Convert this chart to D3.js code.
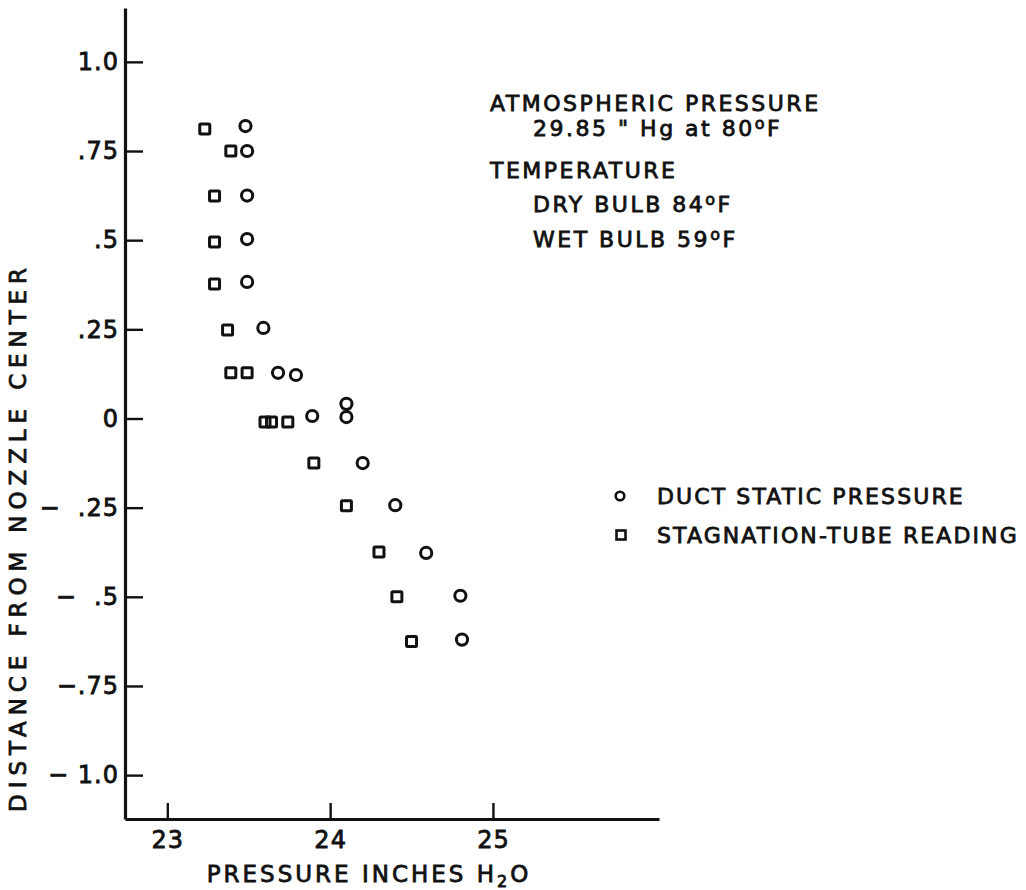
<!DOCTYPE html>
<html>
<head>
<meta charset="utf-8">
<script src="https://cdn.jsdelivr.net/npm/d3@7/dist/d3.min.js"></script>
<style>
  body { margin: 0; background: #fff; }
  svg text { font-family: "DejaVu Sans", sans-serif; fill: #111; stroke: #111; stroke-width: 0.8px; white-space: pre; }
</style>
</head>
<body>
<div id="chart"></div>
<script>
// duct static pressure (circles)
const ductPressure = [23.48, 23.49, 23.49, 23.49, 23.49, 23.59, 23.68, 23.79, 23.89, 24.10, 24.10, 24.20, 24.40, 24.59, 24.80, 24.81];
const ductDistance = [0.82, 0.75, 0.625, 0.503, 0.383, 0.254, 0.128, 0.122, 0.007, 0.041, 0.004, -0.125, -0.243, -0.377, -0.497, -0.62];

// stagnation-tube reading (squares)
const tubePressure = [23.23, 23.39, 23.29, 23.29, 23.29, 23.37, 23.39, 23.49, 23.60, 23.64, 23.74, 23.90, 24.10, 24.30, 24.41, 24.50];
const tubeDistance = [0.812, 0.75, 0.624, 0.495, 0.377, 0.248, 0.128, 0.128, -0.01, -0.01, -0.01, -0.125, -0.245, -0.374, -0.5, -0.625];

const xTicks = [23, 24, 25];
const yTicks = [1, 0.75, 0.5, 0.25, 0, -0.25, -0.5, -0.75, -1];
const yTickLabels = ['1.0', '.75', '.5', '.25', '0', '\u2212  .25', '\u2212  .5', '\u2212.75', '\u2212 1.0'];

const notes = [
    { text: 'ATMOSPHERIC PRESSURE', indent: 0 },
    { text: '29.85 " Hg at 80|F', indent: 1 },
    { text: 'TEMPERATURE', indent: 0 },
    { text: 'DRY BULB 84|F', indent: 1 },
    { text: 'WET BULB 59|F', indent: 1 }
];
const legendLabels = ['DUCT STATIC PRESSURE', 'STAGNATION-TUBE READING'];

const width = 1026;
const height = 890;

const x = d3.scaleLinear()
    .domain([22.74, 26.02])
    .range([125, 659]);

const y = d3.scaleLinear()
    .domain([-1.123, 1.151])
    .range([819, 8]);

const svg = d3.select('#chart')
    .append('svg')
    .attr('width', width)
    .attr('height', height);

// axes
const xAxis = d3.axisBottom(x)
    .tickValues(xTicks)
    .tickSizeInner(-16)
    .tickSizeOuter(0)
    .tickPadding(12)
    .tickFormat(d3.format('d'));

const gx = svg.append('g')
    .attr('transform', 'translate(0,' + y.range()[0] + ')')
    .call(xAxis);

const yAxis = d3.axisLeft(y)
    .tickValues(yTicks)
    .tickSizeInner(-18)
    .tickSizeOuter(0)
    .tickPadding(6)
    .tickFormat((d, i) => yTickLabels[i]);

const gy = svg.append('g')
    .attr('transform', 'translate(' + x.range()[0] + ',0)')
    .call(yAxis);

[gx, gy].forEach(g => {
    g.select('.domain').attr('stroke', '#111').attr('stroke-width', 3.2);
    g.selectAll('.tick line').attr('stroke', '#111').attr('stroke-width', 2.4);
    g.selectAll('.tick text')
        .attr('font-size', 24)
        .attr('fill', '#111')
        .attr('letter-spacing', 1)
        .style('font-family', '"DejaVu Sans", sans-serif');
});
gy.selectAll('.tick text').attr('x', -6);

// axis titles
const xTitle = svg.append('text')
    .attr('x', 369)
    .attr('y', 882)
    .attr('text-anchor', 'middle')
    .attr('font-size', 23)
    .attr('letter-spacing', 3);
xTitle.append('tspan').text('PRESSURE INCHES H');
xTitle.append('tspan').attr('font-size', 16).attr('dy', 5).text('2');
xTitle.append('tspan').attr('dy', -5).text('O');

svg.append('text')
    .attr('transform', 'translate(26,537) rotate(-90)')
    .attr('text-anchor', 'middle')
    .attr('font-size', 23)
    .attr('letter-spacing', 5.9)
    .text('DISTANCE FROM NOZZLE CENTER');

// data
const ductData = ductPressure.map((p, i) => ({ p: p, d: ductDistance[i] }));
const tubeData = tubePressure.map((p, i) => ({ p: p, d: tubeDistance[i] }));

svg.append('g')
    .selectAll('circle')
    .data(ductData)
    .enter()
    .append('circle')
    .attr('cx', d => x(d.p))
    .attr('cy', d => y(d.d))
    .attr('r', 5.6)
    .attr('fill', 'none')
    .attr('stroke', '#111')
    .attr('stroke-width', 3);

const sq = 10;
svg.append('g')
    .selectAll('rect')
    .data(tubeData)
    .enter()
    .append('rect')
    .attr('x', d => x(d.p) - sq / 2)
    .attr('y', d => y(d.d) - sq / 2)
    .attr('width', sq)
    .attr('height', sq)
    .attr('rx', 1)
    .attr('fill', 'none')
    .attr('stroke', '#111')
    .attr('stroke-width', 3);

// notes, "|" marks a raised degree sign
const noteY = [111, 136, 178, 212, 247];
notes.forEach((n, i) => {
    const t = svg.append('text')
        .attr('x', n.indent ? 533 : 490)
        .attr('y', noteY[i])
        .attr('font-size', 22)
        .attr('letter-spacing', 2.5);
    const parts = n.text.split('|');
    t.append('tspan').text(parts[0]);
    if (parts.length > 1) {
        t.append('tspan').attr('font-size', 16).attr('dy', -7).text('o');
        t.append('tspan').attr('dy', 7).text(parts[1]);
    }
});

// legend
const legendY = [496, 535];
svg.append('circle')
    .attr('cx', 620)
    .attr('cy', legendY[0])
    .attr('r', 4.3)
    .attr('fill', 'none')
    .attr('stroke', '#111')
    .attr('stroke-width', 2.6);
svg.append('rect')
    .attr('x', 616.5)
    .attr('y', legendY[1] - 4.5)
    .attr('width', 9)
    .attr('height', 9)
    .attr('fill', 'none')
    .attr('stroke', '#111')
    .attr('stroke-width', 2.6);
legendLabels.forEach((l, i) => {
    svg.append('text')
        .attr('x', 657)
        .attr('y', legendY[i] + 8)
        .attr('font-size', 22)
        .attr('letter-spacing', 2.1)
        .text(l);
});
</script>
</body>
</html>
